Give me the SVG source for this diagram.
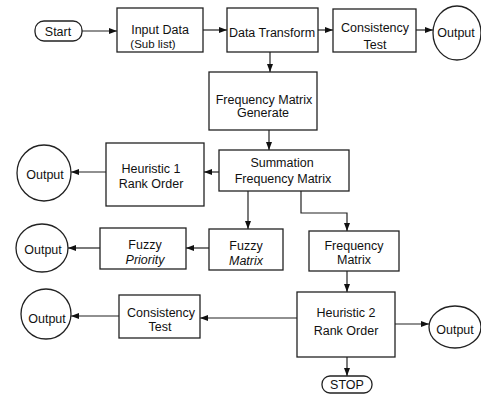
<svg xmlns="http://www.w3.org/2000/svg" width="481" height="397" viewBox="0 0 481 397">
<style>
.b{fill:#fff;stroke:#222;stroke-width:1.3}
.c{fill:none;stroke:#222;stroke-width:1.2}
text{font-family:"Liberation Sans",Arial,sans-serif;font-size:12.5px;fill:#111;text-anchor:middle}
.s{font-size:11.5px}
.i{font-style:italic}
</style>
<defs>
<marker id="a" viewBox="0 0 8 6" refX="8" refY="3" markerWidth="8" markerHeight="6" markerUnits="userSpaceOnUse" orient="auto">
<path d="M0,0L8,3L0,6z" fill="#111"/>
</marker>
</defs>
<rect width="481" height="397" fill="#fff"/>
<g id="connectors" class="c" marker-end="url(#a)">
<path d="M82,31H117"/>
<path d="M203,30H227"/>
<path d="M318,30H333"/>
<path d="M416,30H433"/>
<path d="M270,52V72"/>
<path d="M269,130V150"/>
<path d="M219,172H204"/>
<path d="M106,172H71"/>
<path d="M248,191V229"/>
<path d="M301,191V213H347V231"/>
<path d="M209,248H186"/>
<path d="M100,248H68"/>
<path d="M347,271V292"/>
<path d="M297,318H200"/>
<path d="M119,316H71"/>
<path d="M395,324H429"/>
<path d="M347,357V376"/>
</g>
<g id="start"><rect class="b" x="35" y="21" width="47" height="20" rx="9"/><text x="58" y="36">Start</text></g>
<g id="input"><rect class="b" x="117" y="8" width="86" height="44"/><text x="160" y="34">Input Data</text><text class="s" x="153" y="48">(Sub list)</text></g>
<g id="transform"><rect class="b" x="227" y="8" width="91" height="44"/><text x="272" y="37">Data Transform</text></g>
<g id="consistency1"><rect class="b" x="333" y="9" width="83" height="43"/><text x="375" y="32">Consistency</text><text x="375" y="49">Test</text></g>
<g id="output1"><ellipse class="b" cx="457" cy="33" rx="24" ry="27"/><text x="456" y="37">Output</text></g>
<g id="fmg"><rect class="b" x="209" y="72" width="108" height="58"/><text x="264" y="104">Frequency Matrix</text><text x="263" y="117">Generate</text></g>
<g id="sfm"><rect class="b" x="219" y="150" width="130" height="41"/><text x="282" y="167">Summation</text><text x="283" y="183">Frequency Matrix</text></g>
<g id="h1"><rect class="b" x="106" y="143" width="98" height="63"/><text x="151" y="173">Heuristic 1</text><text x="151" y="188">Rank Order</text></g>
<g id="output2"><ellipse class="b" cx="44" cy="173" rx="27" ry="28"/><text x="45" y="179">Output</text></g>
<g id="fuzzyPriority"><rect class="b" x="100" y="228" width="86" height="41"/><text x="145" y="249">Fuzzy</text><text class="i" x="145" y="264">Priority</text></g>
<g id="fuzzyMatrix"><rect class="b" x="209" y="229" width="74" height="41"/><text x="246" y="250">Fuzzy</text><text class="i" x="246" y="265">Matrix</text></g>
<g id="output3"><ellipse class="b" cx="42" cy="248" rx="26" ry="24"/><text x="43" y="254">Output</text></g>
<g id="freqMatrix"><rect class="b" x="309" y="231" width="90" height="40"/><text x="354" y="250">Frequency</text><text x="354" y="264">Matrix</text></g>
<g id="h2"><rect class="b" x="297" y="292" width="98" height="65"/><text x="346" y="317">Heuristic 2</text><text x="346" y="335">Rank Order</text></g>
<g id="consistency2"><rect class="b" x="119" y="295" width="81" height="43"/><text x="161" y="317">Consistency</text><text x="160" y="331">Test</text></g>
<g id="output4"><ellipse class="b" cx="46" cy="314" rx="25" ry="25"/><text x="47" y="323">Output</text></g>
<g id="output5"><ellipse class="b" cx="455" cy="327" rx="26" ry="21"/><text x="455" y="334">Output</text></g>
<g id="stop"><rect class="b" x="322" y="376" width="50" height="17" rx="8"/><text x="347" y="389">STOP</text></g>
</svg>
